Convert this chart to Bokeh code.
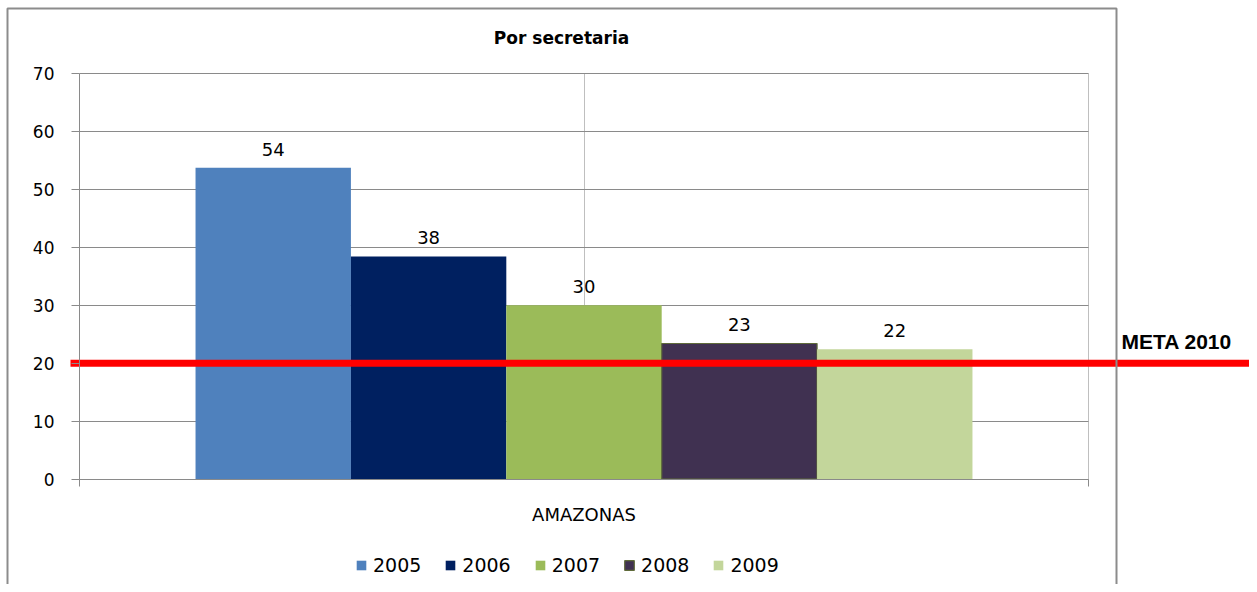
from bokeh.plotting import figure
from bokeh.models import (Range1d, ColumnDataSource, LabelSet, Legend, LegendItem, Label,
                          PolyAnnotation, LinearAxis, FixedTicker, Grid)
from bokeh.core.properties import value
from bokeh.embed import file_html
from bokeh.resources import INLINE

# ---- data ----
title_text = "Por secretaria"
categories = ["AMAZONAS"]
years = ["2005", "2006", "2007", "2008", "2009"]
values = [53.7, 38.4, 30.0, 23.4, 22.4]
colors = ["#4f81bd", "#002060", "#9bbb59", "#403151", "#c3d69b"]
outline_colors = [None, None, None, "#5f6b3a", None]
meta_value = 20
meta_label = "META 2010"
y_ticks = [0, 10, 20, 30, 40, 50, 60, 70]

FONT = "DejaVu Sans"
GRID = "#8a8a8a"
LIGHT = "#bfbfbf"

# ---- layout geometry (pixels of the canvas) ----
W, H = 1249, 584
PX0, PX1 = 79, 1088          # plot area left / right
PY0, PY70 = 478.7, 72.7      # pixel of y=0 and y=70
ppx = PX1 - PX0
ppy = (PY0 - PY70) / 70.0

x_range = Range1d(-PX0 / ppx, (W - PX0) / ppx)
y_range = Range1d((PY0 - H) / ppy, PY0 / ppy)

p = figure(width=W, height=H, x_range=x_range, y_range=y_range,
           x_axis_type=None, y_axis_type=None, output_backend="svg",
           toolbar_location=None, min_border=0, outline_line_color=None)
p.xgrid.visible = False
p.ygrid.visible = False

# ---- grid lines limited to the plot area ----
ncat = len(categories)
cat_centers = [(i + 0.5) / ncat for i in range(ncat)]
cat_bounds = [(i + 1) / ncat for i in range(ncat)]
try:
    yg = Grid(dimension=1, ticker=FixedTicker(ticks=y_ticks), cross_bounds=(0, 1),
              grid_line_color=GRID, grid_line_width=1)
    xg = Grid(dimension=0, ticker=FixedTicker(ticks=cat_centers + cat_bounds),
              cross_bounds=(0, 70), grid_line_color=LIGHT, grid_line_width=1)
    p.add_layout(xg)
    p.add_layout(yg)
except Exception:
    p.segment(x0=[0] * len(y_ticks), x1=[1] * len(y_ticks), y0=y_ticks, y1=y_ticks,
              line_color=GRID, line_width=1)
    xs = cat_centers + cat_bounds
    p.segment(x0=xs, x1=xs, y0=[0] * len(xs), y1=[70] * len(xs),
              line_color=LIGHT, line_width=1)

# ---- bars ----
bar_w = 0.154
renderers = []
for i, (yr, v, c, oc) in enumerate(zip(years, values, colors, outline_colors)):
    off = (i - (len(years) - 1) / 2) * bar_w
    src = ColumnDataSource(dict(x=[cat_centers[0] + off], value=[v], label=[f"{v:.0f}"]))
    r = p.vbar(x="x", top="value", width=bar_w, source=src,
               fill_color=c, line_color=oc, line_width=1.2)
    renderers.append(r)
    p.add_layout(LabelSet(x="x", y="value", text="label", source=src,
                          text_align="center", text_baseline="bottom", y_offset=12,
                          text_font=value(FONT), text_font_size="18px",
                          text_color="#000000"))

# ---- axes ----
yaxis = LinearAxis(fixed_location=0, bounds=(0, 70), ticker=FixedTicker(ticks=y_ticks),
                   axis_line_color=GRID, major_tick_line_color=GRID,
                   major_tick_in=0, major_tick_out=8, minor_tick_line_color=None,
                   major_label_standoff=17, major_label_text_font=FONT,
                   major_label_text_font_size="17px", major_label_text_color="#000000")
p.add_layout(yaxis, "left")

xaxis = LinearAxis(fixed_location=0, bounds=(0, 1),
                   ticker=FixedTicker(ticks=cat_centers, minor_ticks=[0] + cat_bounds),
                   major_label_overrides={c: n for c, n in zip(cat_centers, categories)},
                   axis_line_color=GRID, major_tick_line_color=None, major_tick_out=0,
                   major_tick_in=0, minor_tick_line_color=GRID, minor_tick_in=0,
                   minor_tick_out=7, major_label_standoff=18, major_label_text_font=FONT,
                   major_label_text_font_size="18px", major_label_text_color="#000000")
p.add_layout(xaxis, "below")

# ---- meta line ----
p.segment(x0=[(70 - PX0) / ppx], x1=[(1252 - PX0) / ppx], y0=[meta_value], y1=[meta_value],
          line_color="#ff0000", line_width=7)
p.add_layout(Label(x=(1121 - PX0) / ppx, y=meta_value, y_offset=22, text=meta_label,
                   text_font="Liberation Sans", text_font_style="bold",
                   text_font_size="21px", text_baseline="middle", text_color="#000000"))

# ---- title ----
p.add_layout(Label(x=561, y=H - 37, x_units="screen", y_units="screen", text=title_text,
                   text_align="center", text_baseline="middle", text_font=FONT,
                   text_font_style="bold", text_font_size="17px", text_color="#000000"))

# ---- outer chart border ----
p.add_layout(PolyAnnotation(xs=[7, 1116, 1116, 7], ys=[H - 8, H - 8, -50, -50],
                            xs_units="screen", ys_units="screen", fill_alpha=0,
                            line_color="#8c8c8c", line_alpha=1.0, line_width=2))

legend = Legend(items=[LegendItem(label=y, renderers=[r]) for y, r in zip(years, renderers)],
                orientation="horizontal", location=(355, 8), glyph_width=12, glyph_height=12,
                label_standoff=6, spacing=23, padding=0, margin=0, border_line_color=None,
                background_fill_alpha=0, label_text_font=FONT, label_text_font_size="19px",
                label_text_color="#000000")
p.add_layout(legend)

open("out.html", "w").write(file_html(p, INLINE))
